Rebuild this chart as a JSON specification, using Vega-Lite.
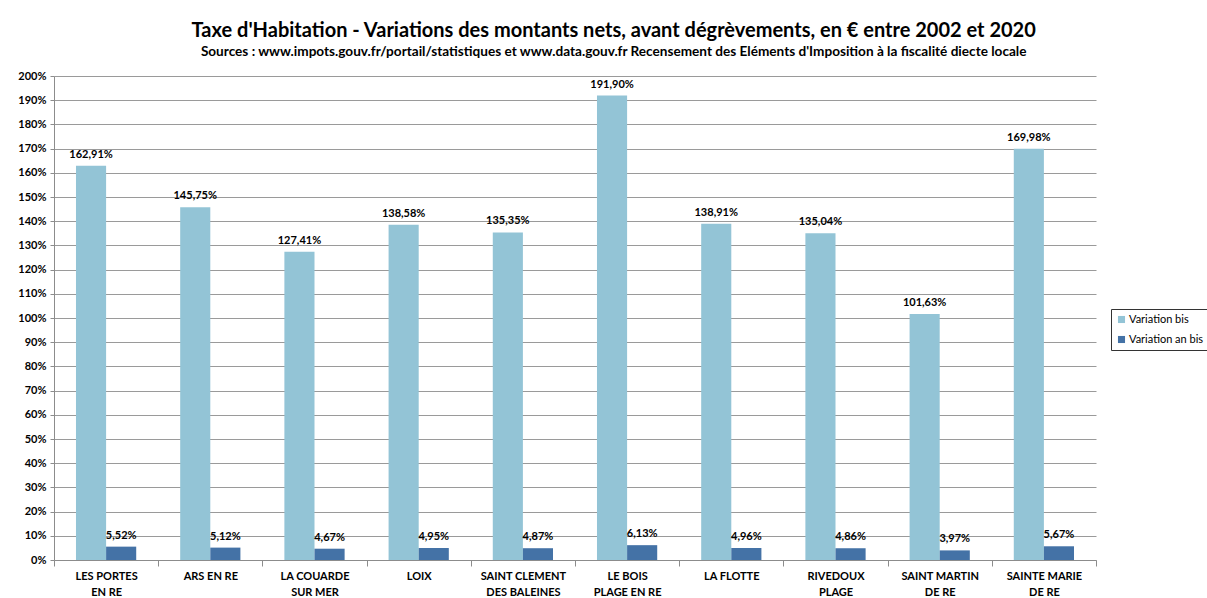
{
  "$schema": "https://vega.github.io/schema/vega-lite/v6.json",
  "width": 1042,
  "height": 484,
  "padding": {"left": 17, "top": 21, "right": 0, "bottom": 4},
  "background": "white",
  "config": {
    "locale": {"number": {"decimal": ",", "thousands": " ", "grouping": [3], "currency": ["", " €"]}},
    "font": "Lato",
    "view": {"stroke": null}
  },
  "title": {
    "text": "Taxe d'Habitation - Variations des montants nets, avant dégrèvements, en € entre 2002 et 2020",
    "subtitle": "Sources : www.impots.gouv.fr/portail/statistiques et www.data.gouv.fr Recensement des Eléments d'Imposition à la fiscalité diecte locale",
    "anchor": "middle",
    "frame": "bounds",
    "font": "Lato",
    "fontSize": 20,
    "fontWeight": "bold",
    "color": "black",
    "subtitleFont": "Lato",
    "subtitleFontSize": 13.6,
    "subtitleFontWeight": "bold",
    "subtitleColor": "black",
    "subtitlePadding": 4,
    "offset": 11
  },
  "data": {
    "values": [
      {"commune": "LES PORTES\nEN RE", "serie": "Variation bis", "valeur": 1.6291},
      {"commune": "LES PORTES\nEN RE", "serie": "Variation an bis", "valeur": 0.0552},
      {"commune": "ARS EN RE", "serie": "Variation bis", "valeur": 1.4575},
      {"commune": "ARS EN RE", "serie": "Variation an bis", "valeur": 0.0512},
      {"commune": "LA COUARDE\nSUR MER", "serie": "Variation bis", "valeur": 1.2741},
      {"commune": "LA COUARDE\nSUR MER", "serie": "Variation an bis", "valeur": 0.0467},
      {"commune": "LOIX", "serie": "Variation bis", "valeur": 1.3858},
      {"commune": "LOIX", "serie": "Variation an bis", "valeur": 0.0495},
      {"commune": "SAINT CLEMENT\nDES BALEINES", "serie": "Variation bis", "valeur": 1.3535},
      {"commune": "SAINT CLEMENT\nDES BALEINES", "serie": "Variation an bis", "valeur": 0.0487},
      {"commune": "LE BOIS\nPLAGE EN RE", "serie": "Variation bis", "valeur": 1.919},
      {"commune": "LE BOIS\nPLAGE EN RE", "serie": "Variation an bis", "valeur": 0.0613},
      {"commune": "LA FLOTTE", "serie": "Variation bis", "valeur": 1.3891},
      {"commune": "LA FLOTTE", "serie": "Variation an bis", "valeur": 0.0496},
      {"commune": "RIVEDOUX\nPLAGE", "serie": "Variation bis", "valeur": 1.3504},
      {"commune": "RIVEDOUX\nPLAGE", "serie": "Variation an bis", "valeur": 0.0486},
      {"commune": "SAINT MARTIN\nDE RE", "serie": "Variation bis", "valeur": 1.0163},
      {"commune": "SAINT MARTIN\nDE RE", "serie": "Variation an bis", "valeur": 0.0397},
      {"commune": "SAINTE MARIE\nDE RE", "serie": "Variation bis", "valeur": 1.6998},
      {"commune": "SAINTE MARIE\nDE RE", "serie": "Variation an bis", "valeur": 0.0567}
    ]
  },
  "encoding": {
    "x": {
      "field": "commune",
      "type": "nominal",
      "sort": null,
      "scale": {"paddingInner": 0, "paddingOuter": 0},
      "axis": {
        "title": null,
        "labelExpr": "isValid(datum.value) ? split(datum.value, '\\n') : ''",
        "labelAngle": 0,
        "labelFont": "Lato",
        "labelFontSize": 11,
        "labelFontWeight": "bold",
        "labelColor": "black",
        "labelLineHeight": 16,
        "labelPadding": 4,
        "tickBand": "extent",
        "tickSize": 6,
        "tickColor": "#8c8c8c",
        "domainColor": "#8c8c8c",
        "grid": false
      }
    },
    "xOffset": {
      "field": "serie",
      "type": "nominal",
      "sort": ["Variation bis", "Variation an bis"],
      "scale": {"paddingInner": 0, "paddingOuter": 0.73}
    },
    "y": {
      "field": "valeur",
      "type": "quantitative",
      "scale": {"domain": [0, 2], "nice": false},
      "axis": {
        "title": null,
        "format": "%",
        "values": [0, 0.1, 0.2, 0.3, 0.4, 0.5, 0.6, 0.7, 0.8, 0.9, 1, 1.1, 1.2, 1.3, 1.4, 1.5, 1.6, 1.7, 1.8, 1.9, 2],
        "labelFont": "Lato",
        "labelFontSize": 11,
        "labelFontWeight": "bold",
        "labelColor": "black",
        "labelPadding": 4,
        "tickSize": 4,
        "tickColor": "#8c8c8c",
        "domainColor": "#8c8c8c",
        "gridColor": "#9a9a9a",
        "grid": true
      }
    }
  },
  "layer": [
    {
      "mark": {"type": "bar"},
      "encoding": {
        "color": {
          "field": "serie",
          "type": "nominal",
          "sort": ["Variation bis", "Variation an bis"],
          "scale": {"domain": ["Variation bis", "Variation an bis"], "range": ["#93C4D6", "#4472A6"]},
          "legend": {
            "title": null,
            "orient": "none",
            "legendX": 1057,
            "legendY": 233,
            "strokeColor": "#333333",
            "padding": 5,
            "symbolType": "square",
            "symbolSize": 50,
            "symbolStrokeWidth": 0,
            "labelFont": "Lato",
            "labelFontSize": 11,
            "labelColor": "black",
            "rowPadding": 8,
            "labelOffset": 2
          }
        }
      }
    },
    {
      "mark": {"type": "text", "baseline": "bottom", "dy": -6, "font": "Lato", "fontSize": 11, "fontWeight": "bold", "color": "black"},
      "encoding": {
        "text": {"field": "valeur", "type": "quantitative", "format": ".2%"}
      }
    }
  ]
}
